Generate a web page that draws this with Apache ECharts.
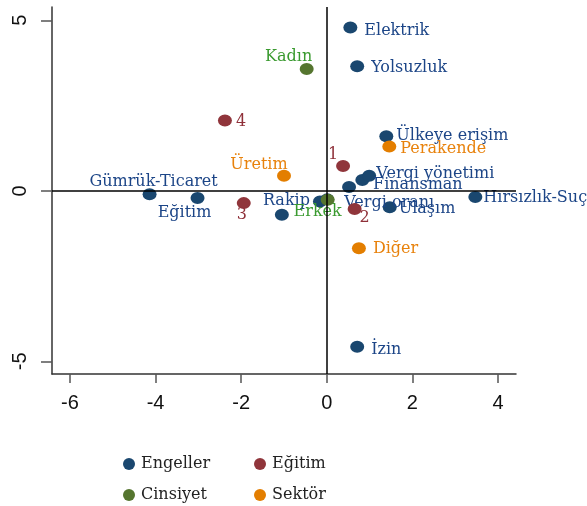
<!DOCTYPE html>
<html>
<head>
<meta charset="utf-8">
<script src="https://cdn.jsdelivr.net/npm/echarts@6/dist/echarts.min.js"></script>
<style>html,body{margin:0;padding:0;background:#fff}#c{width:587px;height:506px}</style>
</head>
<body>
<div id="c"></div>
<script>
// ---- data ----
const categories = ['Engeller', 'Eğitim', 'Cinsiyet', 'Sektör'];

const engellerNames = ['Elektrik', 'Yolsuzluk', 'Ülkeye erişim', 'Vergi yönetimi', '', 'Finansman', 'Gümrük-Ticaret', 'Eğitim', 'Rakip', '', 'Vergi oranı', 'Ulaşım', 'Hırsızlık-Suç', 'İzin'];
const engellerX = [0.55, 0.71, 1.39, 0.83, 0.99, 0.52, -4.14, -3.02, -0.16, -1.05, 0.01, 1.47, 3.47, 0.71];
const engellerY = [4.79, 3.65, 1.60, 0.32, 0.44, 0.11, -0.10, -0.21, -0.31, -0.70, -0.25, -0.48, -0.18, -4.57];

const egitimNames = ['4', '1', '3', '2'];
const egitimX = [-2.38, 0.38, -1.94, 0.65];
const egitimY = [2.06, 0.73, -0.36, -0.53];

const cinsiyetNames = ['Kadın', 'Erkek'];
const cinsiyetX = [-0.47, 0.02];
const cinsiyetY = [3.57, -0.26];

const sektorNames = ['Perakende', 'Üretim', 'Diğer'];
const sektorX = [1.46, -1.00, 0.75];
const sektorY = [1.30, 0.44, -1.68];

const xTicks = [-6, -4, -2, 0, 2, 4];
const yTicks = [-5, 0, 5];

// ---- styles ----
const markerColors = ['#1a476f', '#90353b', '#55752f', '#e37e00'];
const labelColors = ['#1c4587', '#8f3039', '#3a9a2f', '#e8820c'];
// [position, dx, dy]
const labelPlacement = {
  'Elektrik': ['right', 7, 3],
  'Yolsuzluk': ['right', 7, 1],
  'Ülkeye erişim': ['right', 3, 0],
  'Vergi yönetimi': ['right', 7, -6],
  'Finansman': ['right', 17, -2],
  'Gümrük-Ticaret': ['top', 4, 2],
  'Eğitim': ['bottom', -13, 0],
  'Rakip': ['left', -3, -1],
  'Vergi oranı': ['right', 10, 3],
  'Ulaşım': ['right', 2, 2],
  'Hırsızlık-Suç': ['right', 1, 1],
  'İzin': ['right', 7, 3],
  '4': ['right', 4, 1.5],
  '1': ['top', -10, 3.5],
  '3': ['bottom', -2, -3],
  '2': ['bottom', 10, -6],
  'Kadın': ['top', -18, 2.5],
  'Erkek': ['bottom', -10, -2],
  'Perakende': ['right', 4, 2],
  'Üretim': ['top', -25, 4],
  'Diğer': ['right', 7, 1]
};

function buildData(names, xs, ys, ci) {
  return names.map((n, i) => {
    const p = labelPlacement[n] || ['right', 0, 0];
    return {
      name: n,
      value: [xs[i], ys[i]],
      label: {
        show: n !== '',
        position: p[0],
        distance: 0,
        offset: [p[1], p[2]],
        formatter: '{b}',
        color: labelColors[ci],
        fontFamily: 'DejaVu Serif',
        fontSize: 16,
        lineHeight: 17
      }
    };
  });
}

const groups = [
  [engellerNames, engellerX, engellerY],
  [egitimNames, egitimX, egitimY],
  [cinsiyetNames, cinsiyetX, cinsiyetY],
  [sektorNames, sektorX, sektorY]
];

const series = groups.map((g, ci) => ({
  name: categories[ci],
  type: 'scatter',
  symbol: 'circle',
  symbolSize: [14, 12],
  itemStyle: { color: markerColors[ci], opacity: 1 },
  data: buildData(g[0], g[1], g[2], ci),
  z: 2 + ci
}));

series[0].markLine = {
  silent: true,
  symbol: 'none',
  label: { show: false },
  lineStyle: { color: '#000', width: 1.5, type: 'solid' },
  data: [{ xAxis: 0 }, { yAxis: 0 }],
  animation: false
};

const chart = echarts.init(document.getElementById('c'));
chart.setOption({
  animation: false,
  backgroundColor: '#fff',
  grid: { left: 52, right: 71, top: 7, bottom: 132 },
  xAxis: {
    type: 'value',
    min: -6.42,
    max: 4.42,
    splitLine: { show: false },
    axisLine: { show: true, onZero: false, lineStyle: { color: '#333', width: 1.5 } },
    axisTick: { show: true, customValues: xTicks, length: 9, lineStyle: { color: '#555', width: 1.5 } },
    axisLabel: { customValues: xTicks, margin: 19, color: '#111', fontFamily: 'Liberation Sans', fontSize: 20 }
  },
  yAxis: {
    type: 'value',
    min: -5.37,
    max: 5.39,
    splitLine: { show: false },
    axisLine: { show: true, onZero: false, lineStyle: { color: '#333', width: 1.5 } },
    axisTick: { show: true, customValues: yTicks, length: 11, lineStyle: { color: '#555', width: 1.5 } },
    axisLabel: { customValues: yTicks, rotate: 90, margin: 22, color: '#111', fontFamily: 'Liberation Sans', fontSize: 20 }
  },
  legend: [
    {
      orient: 'vertical', left: 123, top: 456, padding: 0, itemGap: 15,
      itemWidth: 14, itemHeight: 12, icon: 'circle',
      data: ['Engeller', 'Cinsiyet'],
      textStyle: { fontFamily: 'DejaVu Serif', fontSize: 16, color: '#222' }
    },
    {
      orient: 'vertical', left: 254, top: 456, padding: 0, itemGap: 15,
      itemWidth: 14, itemHeight: 12, icon: 'circle',
      data: ['Eğitim', 'Sektör'],
      textStyle: { fontFamily: 'DejaVu Serif', fontSize: 16, color: '#222' }
    }
  ],
  series: series
});
</script>
</body>
</html>
